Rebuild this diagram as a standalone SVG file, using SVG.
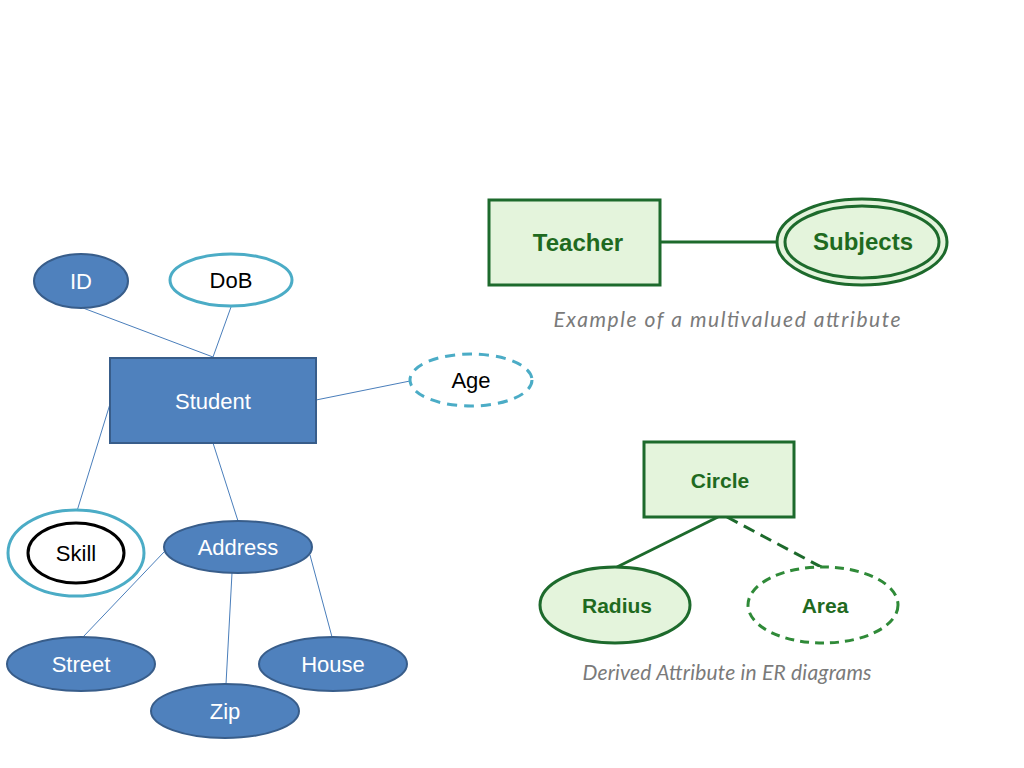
<svg xmlns="http://www.w3.org/2000/svg" width="1024" height="768" viewBox="0 0 1024 768">
<style>
.blue{fill:#4f81bd;stroke:#385d8a;stroke-width:2}
.white{fill:#ffffff;stroke:#4bacc6;stroke-width:3}
.dash{fill:#ffffff;stroke:#4bacc6;stroke-width:3;stroke-dasharray:10 7}
.lbl{font-family:"Liberation Sans",Arial,sans-serif;font-size:22px;text-anchor:middle;dominant-baseline:central}
.w{fill:#ffffff}.k{fill:#000000}
.conn line{stroke:#4a7ebb;stroke-width:1}
.g{fill:#e4f4dc;stroke:#1d6a2c;stroke-width:3}
.gd{fill:#ffffff;stroke:#2f8a38;stroke-width:3;stroke-dasharray:9 6}
.gl{font-family:"Liberation Sans",Arial,sans-serif;font-weight:bold;font-size:21px;fill:#1f6a1f;text-anchor:middle;dominant-baseline:central}
.big{font-size:24px}
.cap{font-family:Lato,"Open Sans",sans-serif;font-style:italic;font-size:21px;fill:#7a7a7a;text-anchor:middle}
</style>
<rect width="1024" height="768" fill="#ffffff"/>
<g class="conn" id="connectors">
<line x1="83" y1="308" x2="213" y2="357"/>
<line x1="231" y1="307" x2="213" y2="357"/>
<line x1="316" y1="400" x2="410" y2="381"/>
<line x1="110" y1="404" x2="77" y2="511"/>
<line x1="213" y1="443" x2="238" y2="521"/>
<line x1="164" y1="552" x2="83" y2="637"/>
<line x1="232" y1="573" x2="226" y2="684"/>
<line x1="310" y1="555" x2="332" y2="637"/>
</g>
<g id="green-connectors">
<line x1="660" y1="242" x2="777" y2="242" stroke="#1d6a2c" stroke-width="3"/>
<line x1="718" y1="517" x2="617" y2="567" stroke="#1d6a2c" stroke-width="3"/>
<line x1="727" y1="517" x2="823" y2="568" stroke="#1d6a2c" stroke-width="3" stroke-dasharray="12 7"/>
</g>
<g id="ID"><ellipse class="blue" cx="81" cy="281" rx="47" ry="27"/><text class="lbl w" x="81" y="281">ID</text></g>
<g id="DoB"><ellipse class="white" cx="231" cy="280" rx="61" ry="26"/><text class="lbl k" x="231" y="280">DoB</text></g>
<g id="Student"><rect class="blue" x="110" y="358" width="206" height="85"/><text class="lbl w" x="213" y="401">Student</text></g>
<g id="Age"><ellipse class="dash" cx="471" cy="380" rx="61" ry="26"/><text class="lbl k" x="471" y="380">Age</text></g>
<g id="Skill"><ellipse fill="#ffffff" stroke="#4bacc6" stroke-width="3" cx="76" cy="553" rx="68" ry="43"/><ellipse fill="#ffffff" stroke="#000000" stroke-width="3" cx="76" cy="553" rx="48" ry="30"/><text class="lbl k" x="76" y="553">Skill</text></g>
<g id="Address"><ellipse class="blue" cx="238" cy="547" rx="74" ry="26"/><text class="lbl w" x="238" y="547">Address</text></g>
<g id="Street"><ellipse class="blue" cx="81" cy="664" rx="74" ry="27"/><text class="lbl w" x="81" y="664">Street</text></g>
<g id="House"><ellipse class="blue" cx="333" cy="664" rx="74" ry="27"/><text class="lbl w" x="333" y="664">House</text></g>
<g id="Zip"><ellipse class="blue" cx="225" cy="711" rx="74" ry="27"/><text class="lbl w" x="225" y="711">Zip</text></g>
<g id="Teacher"><rect class="g" x="489" y="200" width="171" height="85"/><text class="gl big" x="578" y="242">Teacher</text></g>
<g id="Subjects"><ellipse class="g" cx="862" cy="242" rx="85" ry="43"/><ellipse fill="none" stroke="#1d6a2c" stroke-width="3" cx="862" cy="242" rx="77" ry="36"/><text class="gl big" x="863" y="241">Subjects</text></g>
<text class="cap" x="727" y="327" textLength="347" lengthAdjust="spacing">Example of a multivalued attribute</text>
<g id="Circle"><rect class="g" x="644" y="442" width="150" height="75"/><text class="gl" x="720" y="480">Circle</text></g>
<g id="Radius"><ellipse class="g" cx="615" cy="605" rx="75" ry="38"/><text class="gl" x="617" y="605">Radius</text></g>
<g id="Area"><ellipse class="gd" cx="823" cy="605" rx="75" ry="38"/><text class="gl" x="825" y="605">Area</text></g>
<text class="cap" x="727" y="680" textLength="289" lengthAdjust="spacing">Derived Attribute in ER diagrams</text>
</svg>
